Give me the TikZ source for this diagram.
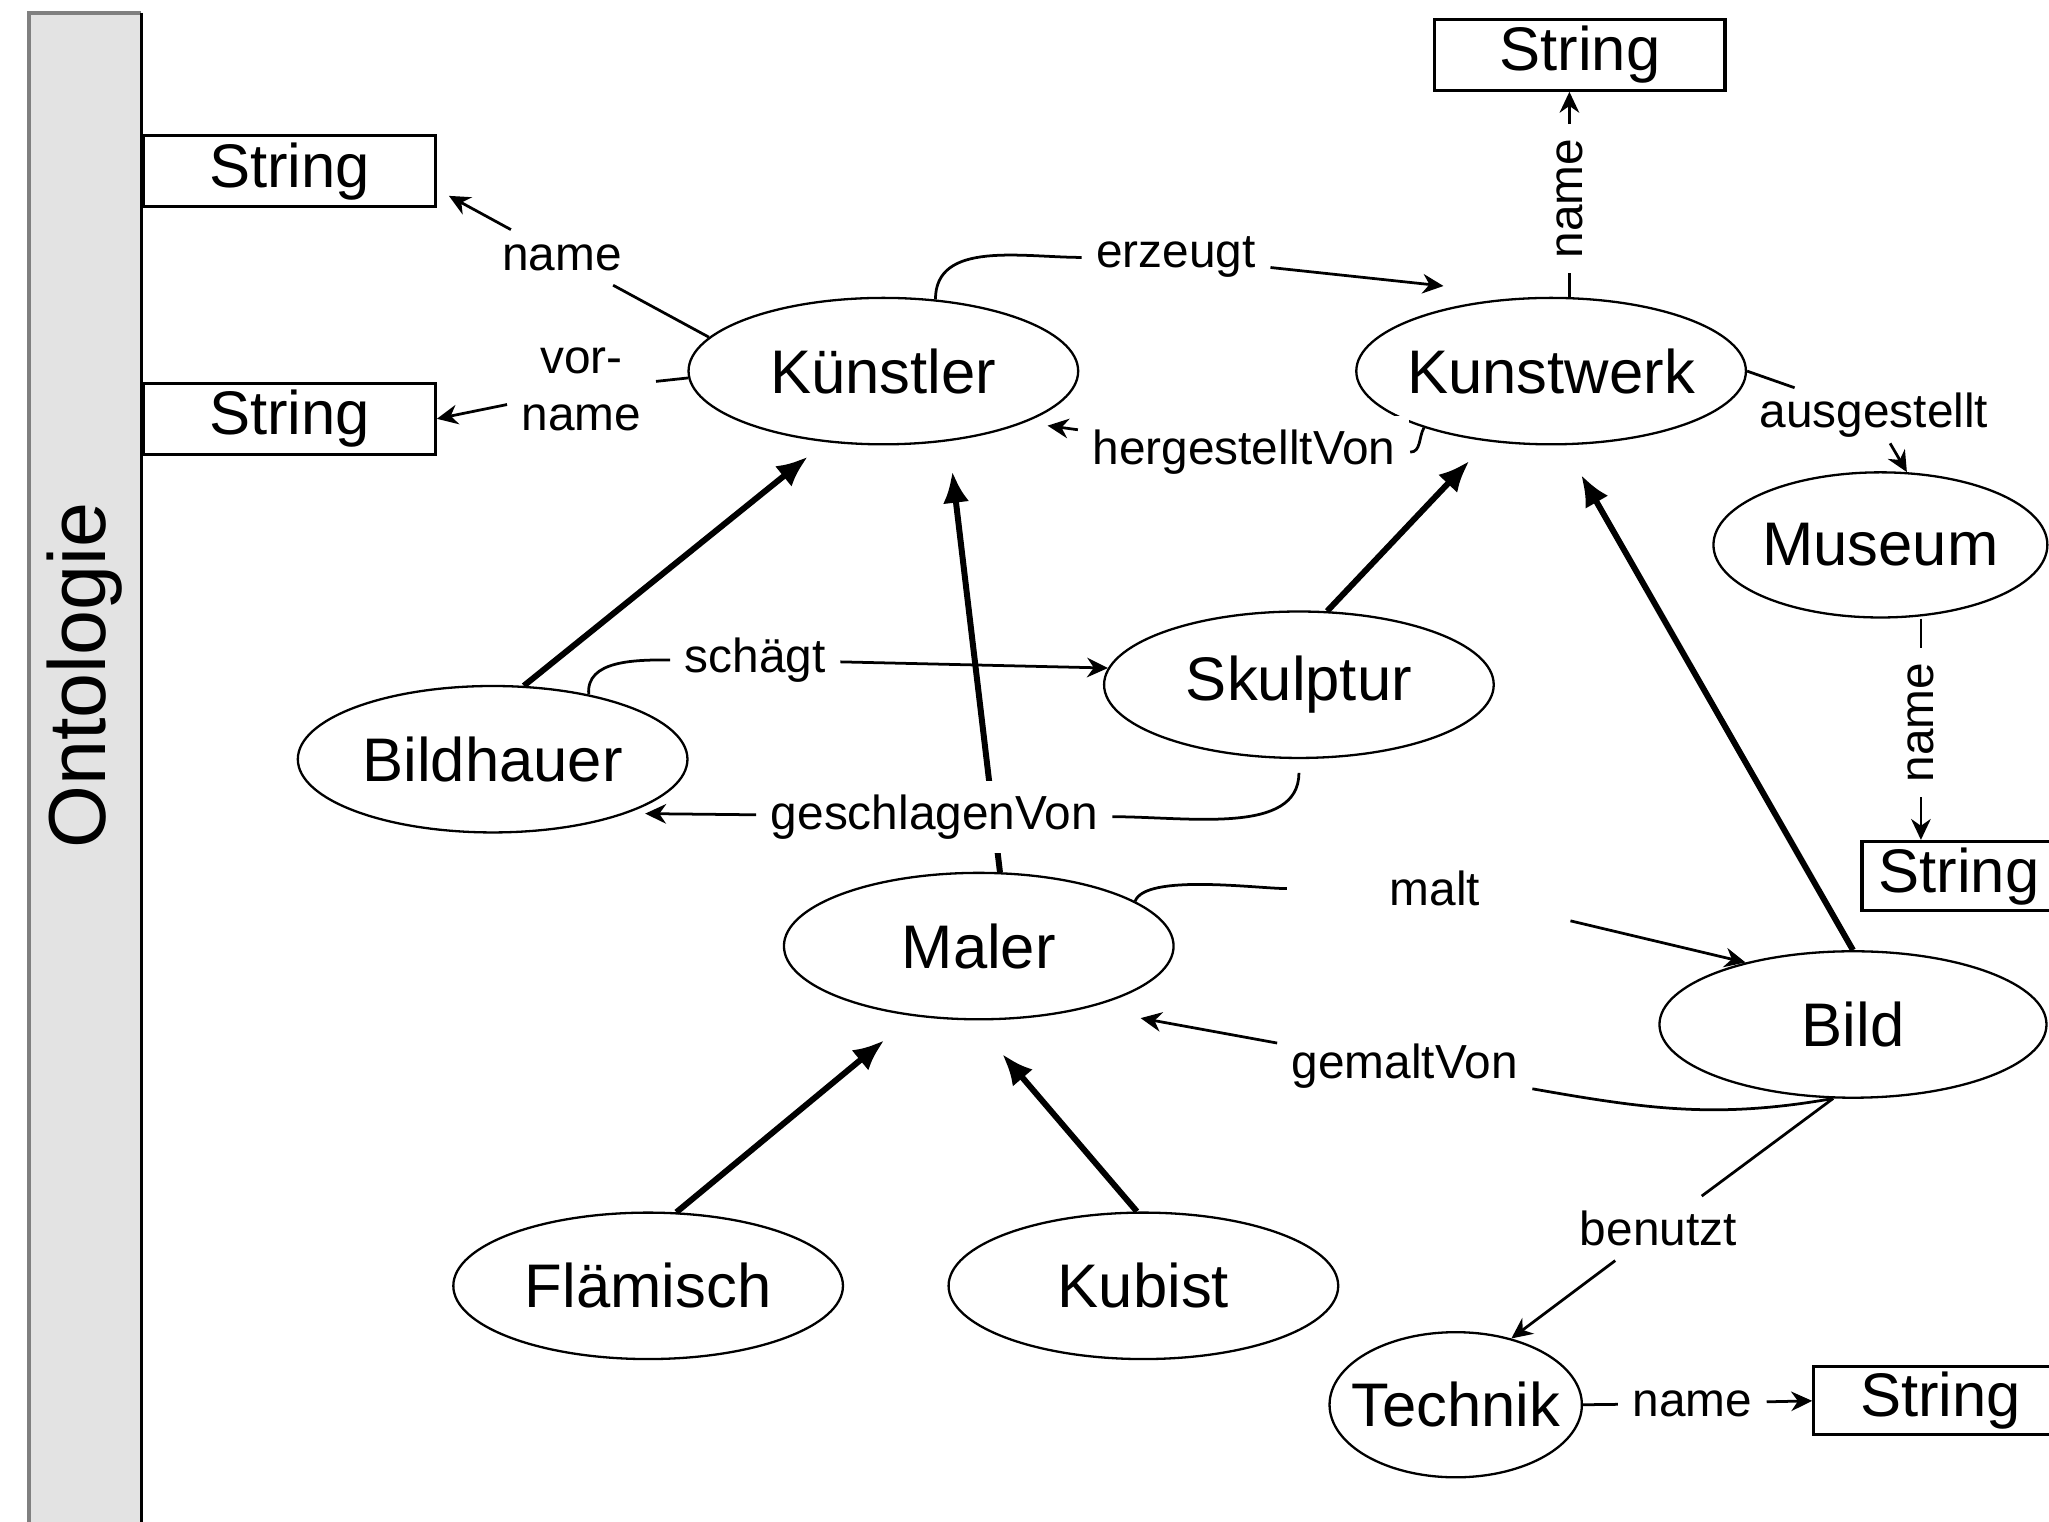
\documentclass[tikz,border=0pt]{standalone}
\usepackage{fontspec}
\setmainfont{Liberation Sans}
\usetikzlibrary{shapes.geometric,arrows.meta}

\begin{document}
\begin{tikzpicture}
[%%%%%%%%%%%%%%%%%%%%%%%%%%%%%%
x=0.01cm,y=0.01cm,
cls/.style={ellipse,draw=black,line width=0.5pt,inner sep=0pt,minimum width=2.98cm,minimum height=1.12cm,font=\fontsize{13.4}{15}\selectfont},
strbox/.style={rectangle,draw=black,line width=0.7pt,minimum width=2.23cm,minimum height=0.54cm,inner sep=0pt,font=\fontsize{13.4}{15}\selectfont},
lbl/.style={fill=white,inner sep=3pt,font=\fontsize{10.4}{12.5}\selectfont},
rel/.style={line width=0.6pt},
relto/.style={rel,-{Stealth[length=1.6mm,width=1.5mm]}},
isa/.style={line width=1.3pt,-{Latex[length=2.4mm,width=2mm]}},
]%%%%%%%%%%%%%%%%%%%%%%%%%%%%%%

\useasboundingbox (0,0) rectangle (1568,-1164);

\fill[black!11] (22,-10) rectangle (108,-1170);
\draw[gray,line width=0.8pt] (22,-1170) -- (22,-10) -- (108,-10);
\draw[line width=0.6pt] (108,-10) -- (108,-1170);
\node[rotate=90,font=\fontsize{17.6}{20}\selectfont] (onto) at (65,-517){Ontologie};

\node[cls] (kuenstler) at (676,-284){Künstler};
\node[cls,inner xsep=-1.5pt] (kunstwerk) at (1187,-284){Kunstwerk};
\node[cls,minimum width=2.52cm,minimum height=1.11cm] (museum) at (1439,-417){Museum};
\node[cls] (skulptur) at (994,-524){Skulptur};
\node[cls] (bildhauer) at (377,-581){Bildhauer};
\node[cls] (maler) at (749,-724){Maler};
\node[cls,minimum width=2.96cm] (bild) at (1418,-784){Bild};
\node[cls] (flaemisch) at (496,-984){Flämisch};
\node[cls] (kubist) at (875,-984){Kubist};
\node[cls,inner xsep=-4pt,minimum width=1.93cm,minimum height=1.11cm] (technik) at (1114,-1075){Technik};

\node[strbox] (s1) at (221.5,-131){String};
\node[strbox] (s2) at (221.5,-320.5){String};
\node[strbox,minimum width=2.22cm] (s3) at (1209,-42){String};
\node[strbox,minimum width=1.48cm,minimum height=0.53cm] (s4) at (1499,-670.5){String};
\node[strbox,minimum width=1.94cm,minimum height=0.52cm] (s5) at (1485,-1072){String};

\draw[isa,shorten >=5pt] (bildhauer.67) -- (kuenstler.231);
\draw[isa,shorten >=6.6pt] (maler.74) -- (kuenstler.313);
\draw[isa,shorten >=5.8pt] (skulptur.69) -- (kunstwerk.228);
\draw[isa,shorten >=7.4pt] (bild.north) -- (kunstwerk.280);
\draw[isa,shorten >=8.2pt] (flaemisch.69) -- (maler.227);
\draw[isa,shorten >=9.6pt] (kubist.95) -- (maler.266);

\node[lbl] (lname1) at (430,-197){name};
\node[lbl,align=center] (lvor) at (445,-298){vor-\\name};
\node[lbl] (lerz) at (900,-197){erzeugt};
\node[lbl] (lherg) at (952,-346){hergestelltVon};
\node[lbl,inner sep=1pt] (laus) at (1434,-318){ausgestellt};
\node[lbl,rotate=90] (lkw) at (1201,-152){name};
\node[lbl,rotate=90] (lmus) at (1470,-553){name};
\node[lbl] (lschl) at (578,-505){schägt};
\node[lbl] (lgesch) at (715,-625){geschlagenVon};
\node[lbl,minimum width=2.25cm] (lmalt) at (1098,-680){malt};
\node[lbl] (lgem) at (1075,-816){gemaltVon};
\node[lbl] (lben) at (1269,-940){benutzt};
\node[lbl] (ltech) at (1295,-1074){name};

\draw[rel] (kuenstler.169) -- (lname1);
\draw[relto,shorten >=3pt] (lname1) -- (s1.-7);
\draw[rel] (kuenstler.182) -- (lvor);
\draw[relto] (lvor) -- (s2.east);
\draw[rel] (kuenstler.54) to[out=90,in=180] (lerz);
\draw[relto] (lerz) -- ([yshift=5pt]kunstwerk.150);
\draw[rel] (kunstwerk.204) to[out=240,in=0] (lherg);
\draw[relto,shorten >=5pt] (lherg) -- (kuenstler.340);
\draw[rel] (kunstwerk.east) -- (laus);
\draw[relto] (laus) -- (museum.70);
\draw[rel] (lkw |- kunstwerk.north) -- (lkw);
\draw[relto] (lkw) -- (lkw |- s3.south);
\draw[rel] (lmus |- museum.south) -- (lmus);
\draw[relto] (lmus) -- (lmus |- s4.north);
\draw[rel] (bildhauer.34) to[out=95,in=180] (lschl);
\draw[relto] (lschl) -- (skulptur.175);
\draw[rel,shorten <=3pt] (skulptur.south) to[out=-90,in=0] (lgesch);
\draw[relto,shorten >=4pt] (lgesch) -- (bildhauer.338);
\draw[rel] (maler.16) to[out=70,in=180,looseness=0.5] (lmalt);
\draw[relto] (lmalt) -- (bild.150);
\draw[rel] (bild.255) to[out=190,in=-10] (lgem);
\draw[relto,shorten >=12pt] (lgem) -- (maler.330);
\draw[rel] (bild.255) -- (lben);
\draw[relto] (lben) -- (technik.50);
\draw[rel] (technik.east) -- (ltech);
\draw[relto] (ltech) -- (s5.west);
\end{tikzpicture}
\end{document}
